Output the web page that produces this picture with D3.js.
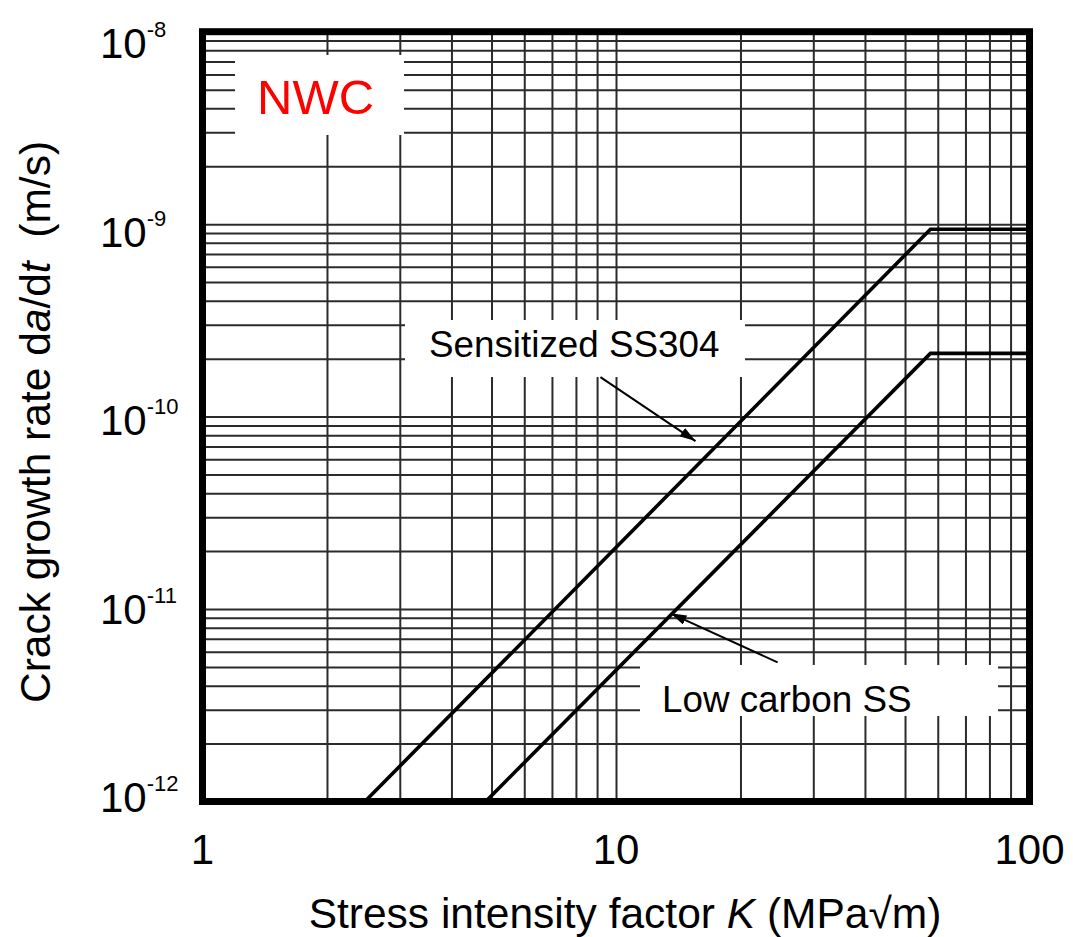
<!DOCTYPE html>
<html><head><meta charset="utf-8">
<script src="https://cdn.jsdelivr.net/npm/d3@7"></script>
<style>
body{margin:0;background:#fff;}
svg{display:block;}
text{font-family:"Liberation Sans",Arial,Helvetica,sans-serif;}
</style>
</head><body>
<svg id="chart" width="1073" height="937"></svg>
<script>
// ---- data ----
const xTickValues = [1, 10, 100];
const xTickLabels = ["1", "10", "100"];
const yTickValues = [1e-8, 1e-9, 1e-10, 1e-11, 1e-12];
const yTickExponents = ["-8", "-9", "-10", "-11", "-12"];
const gridMultipliers = [1, 2, 3, 4, 5, 6, 7, 8, 9];
const xDecades = [1, 10];
const yDecades = [1e-12, 1e-11, 1e-10, 1e-9];

const seriesNames = ["Sensitized SS304", "Low carbon SS"];
const sensitizedK = [2.47, 57.6, 100];
const sensitizedRate = [1e-12, 9.4e-10, 9.4e-10];
const lowCarbonK = [4.84, 57.6, 100];
const lowCarbonRate = [1e-12, 2.13e-10, 2.13e-10];

// annotation arrows (data space: from label to curve)
const arrowSensitizedK = [9.17, 15.57];
const arrowSensitizedRate = [1.605e-10, 7.46e-11];
const arrowLowCarbonK = [24.6, 13.55];
const arrowLowCarbonRate = [5.28e-12, 9.5e-12];

// ---- layout ----
const svg = d3.select("#chart");
const pLeft = 202.5, pRight = 1029.5, pTop = 31.7, pBottom = 801.5;
const x = d3.scaleLog().domain([1, 100]).range([pLeft, pRight]);
const y = d3.scaleLog().domain([1e-12, 1e-8]).range([pBottom, pTop]);
const yLabel = d3.scaleLog().domain([1e-12, 1e-8]).range([797, 43]);

const xGrid = [];
xDecades.forEach(d => gridMultipliers.forEach(m => { const v = d * m; if (v > 1 && v < 100) xGrid.push(v); }));
const yGrid = [];
yDecades.forEach(d => gridMultipliers.forEach(m => { const v = d * m; if (v > 1e-12 * 1.0001 && v < 1e-8 * 0.9999) yGrid.push(v); }));

const gridColor = "#2b2b2b";
const gx = svg.append("g").attr("transform", `translate(0,${pBottom})`)
  .call(d3.axisBottom(x).tickValues(xGrid).tickSize(-(pBottom - pTop)).tickFormat(""));
gx.select(".domain").remove();
gx.selectAll("line").attr("stroke", gridColor).attr("stroke-width", 2);

const gy = svg.append("g").attr("transform", `translate(${pLeft},0)`)
  .call(d3.axisLeft(y).tickValues(yGrid).tickSize(-(pRight - pLeft)).tickFormat(""));
gy.select(".domain").remove();
gy.selectAll("line").attr("stroke", gridColor).attr("stroke-width", 2);

// white label boxes
const boxes = [
  {x0: 235, y0: 55, x1: 404, y1: 135},
  {x0: 405, y0: 320, x1: 745, y1: 377},
  {x0: 640, y0: 665, x1: 998, y1: 716}
];
svg.append("g").selectAll("rect").data(boxes).join("rect")
  .attr("x", d => d.x0).attr("y", d => d.y0)
  .attr("width", d => d.x1 - d.x0).attr("height", d => d.y1 - d.y0)
  .attr("fill", "#fff");

// curves
const line = d3.line().x(d => x(d[0])).y(d => y(d[1]));
const curves = [d3.zip(sensitizedK, sensitizedRate), d3.zip(lowCarbonK, lowCarbonRate)];
svg.append("g").selectAll("path").data(curves).join("path")
  .attr("d", line).attr("fill", "none").attr("stroke", "#000").attr("stroke-width", 3.6)
  .attr("stroke-linejoin", "miter");

// arrows
svg.append("defs").append("marker").attr("id", "ah")
  .attr("viewBox", "0 0 16 10").attr("refX", 16).attr("refY", 5)
  .attr("markerWidth", 16).attr("markerHeight", 10)
  .attr("markerUnits", "userSpaceOnUse").attr("orient", "auto")
  .append("path").attr("d", "M0,0 L16,5 L0,10 Z").attr("fill", "#000");
const arrows = [d3.zip(arrowSensitizedK, arrowSensitizedRate), d3.zip(arrowLowCarbonK, arrowLowCarbonRate)];
svg.append("g").selectAll("path").data(arrows).join("path")
  .attr("d", line).attr("fill", "none").attr("stroke", "#000").attr("stroke-width", 2)
  .attr("marker-end", "url(#ah)");

// frame
svg.append("rect").attr("x", pLeft).attr("y", pTop).attr("width", pRight - pLeft).attr("height", pBottom - pTop)
  .attr("fill", "none").attr("stroke", "#000").attr("stroke-width", 7);

// y tick labels
const yt = svg.append("g").selectAll("text").data(yTickValues).join("text")
  .attr("x", 100).attr("y", d => yLabel(d) + 15)
  .attr("font-size", 42).attr("fill", "#000");
yt.append("tspan").text("10");
yt.append("tspan").attr("font-size", 22).attr("dy", -21).text((d, i) => yTickExponents[i]);

// x tick labels
svg.append("g").selectAll("text").data(xTickValues).join("text")
  .attr("x", d => x(d)).attr("y", 864).attr("text-anchor", "middle")
  .attr("font-size", 42).attr("fill", "#000").text((d, i) => xTickLabels[i]);

// axis titles
const xt = svg.append("text").attr("x", 625).attr("y", 928).attr("text-anchor", "middle")
  .attr("font-size", 42.5).attr("fill", "#000").style("white-space", "pre");
xt.append("tspan").text("Stress intensity factor ");
xt.append("tspan").attr("font-style", "italic").text("K");
xt.append("tspan").text(" (MPa\u221Am)");

const ytt = svg.append("text").attr("transform", "translate(50,422) rotate(-90)")
  .attr("text-anchor", "middle").attr("font-size", 42.5).attr("fill", "#000")
  .style("white-space", "pre");
ytt.append("tspan").text("Crack growth rate d");
ytt.append("tspan").attr("font-style", "italic").text("a");
ytt.append("tspan").text("/d");
ytt.append("tspan").attr("font-style", "italic").text("t");
ytt.append("tspan").text("  (m/s)");

// annotations
svg.append("text").attr("x", 257).attr("y", 114).attr("font-size", 49).attr("fill", "#ff0000").text("NWC");
svg.append("text").attr("x", 429).attr("y", 357).attr("font-size", 36.8).attr("fill", "#000").text(seriesNames[0]);
svg.append("text").attr("x", 662).attr("y", 712).attr("font-size", 36.8).attr("fill", "#000").text(seriesNames[1]);
</script>
</body></html>
